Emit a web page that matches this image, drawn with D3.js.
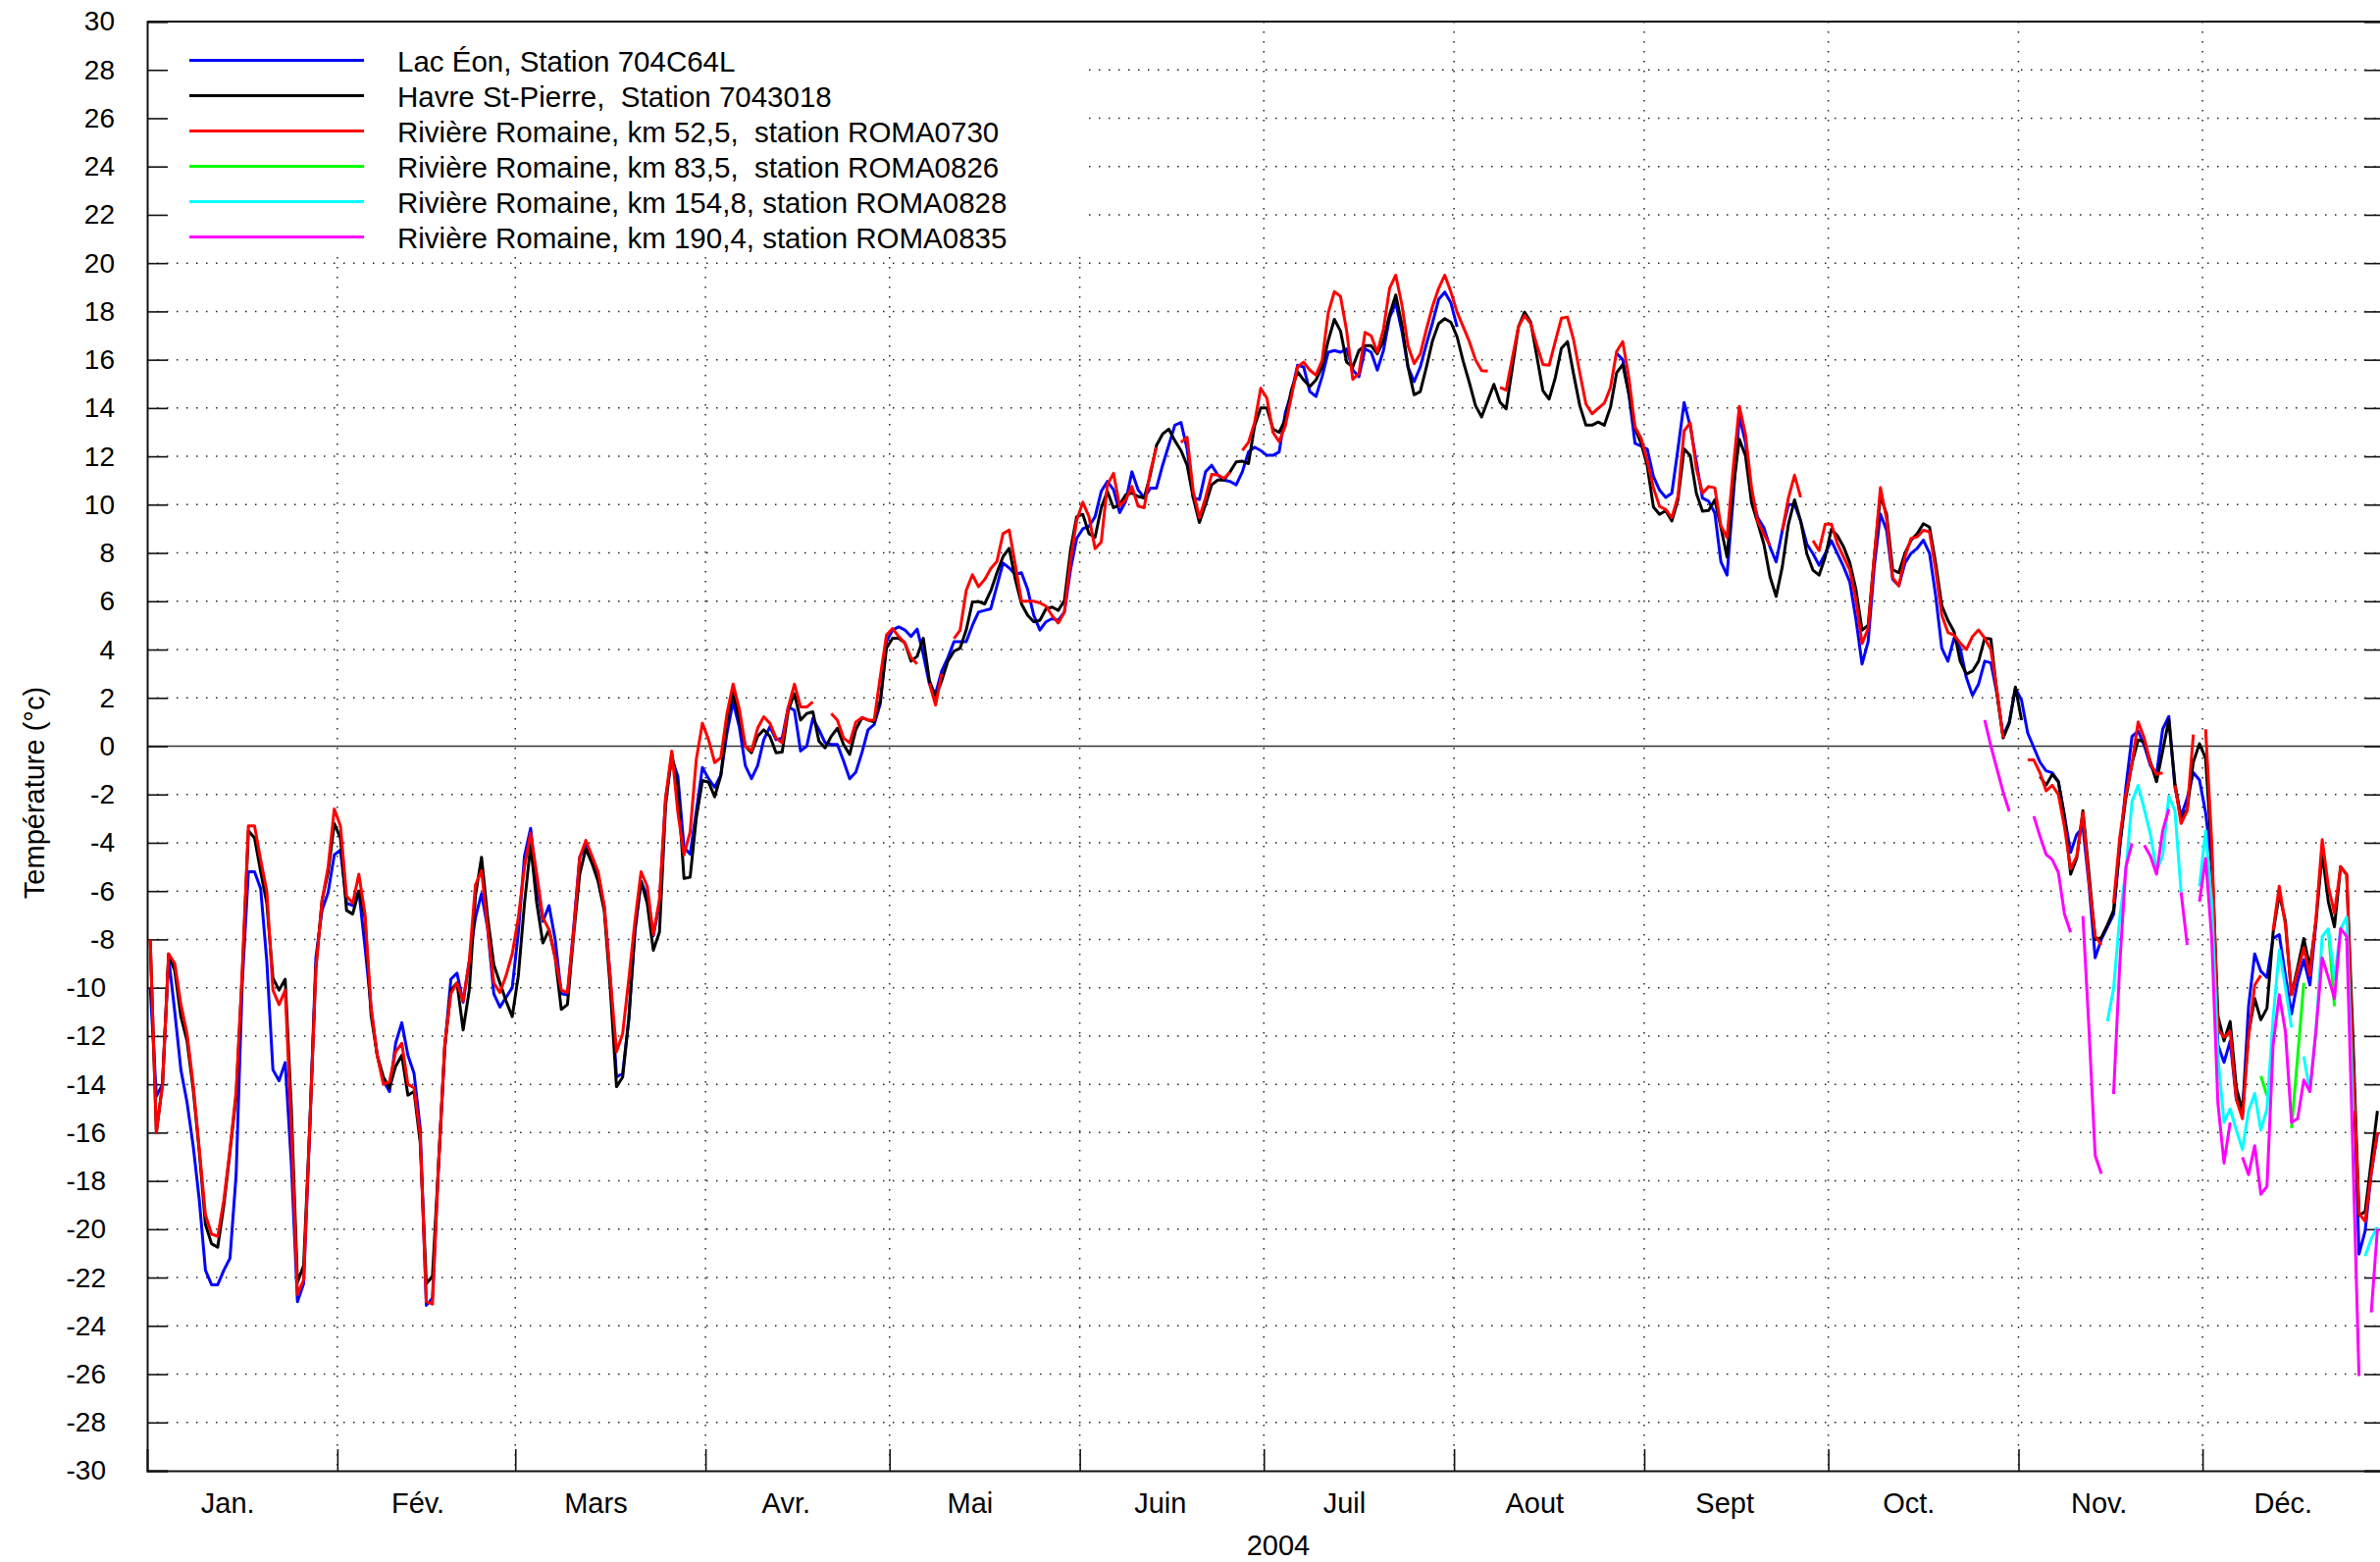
<!DOCTYPE html>
<html>
<head>
<meta charset="utf-8">
<script src="https://cdn.jsdelivr.net/npm/d3@7"></script>
<style>
  body { margin: 0; background: #fff; }
  svg text { font-family: "Liberation Sans", Arial, sans-serif; fill: #000; }
</style>
</head>
<body>
<svg id="chart"></svg>
<script>
// daily values, 2004, index 0 = Jan 1
var lacEon = [
  -10.0, -14.5, -14.0, -8.75, -11.0, -13.4, -14.75, -16.55, -18.8, -21.7,
  -22.3, -22.3, -21.7, -21.2, -17.75, -9.8, -5.2, -5.2, -5.9, -8.9,
  -13.4, -13.85, -13.1, -17.3, -23.0, -22.25, -15.8, -8.75, -6.8, -6.05,
  -4.5, -4.3, -6.5, -6.6, -6.0, -8.3, -10.85, -12.8, -13.85, -14.3,
  -12.3, -11.45, -12.8, -13.55, -15.8, -23.15, -22.85, -17.3, -12.5, -9.65,
  -9.4, -10.6, -8.9, -7.1, -6.1, -7.55, -10.25, -10.8, -10.4, -10.0,
  -7.7, -4.55, -3.4, -5.75, -7.25, -6.6, -8.0, -10.25, -10.3, -7.55,
  -4.6, -4.1, -4.7, -5.3, -6.65, -9.65, -13.7, -13.55, -11.3, -7.7,
  -5.6, -6.2, -7.85, -6.5, -2.15, -0.5, -1.25, -4.2, -4.47, -2.7,
  -0.88, -1.35, -1.7, -1.2, 0.54, 1.83, 0.81, -0.81, -1.35, -0.81,
  0.27, 0.81, 0.27, 0.34, 1.62, 1.49, -0.2, 0, 1.15, 0.68,
  0.14, 0.07, 0.07, -0.61, -1.35, -1.08, -0.27, 0.68, 0.9, 1.76,
  4.33, 4.81, 4.94, 4.81, 4.54, 4.85, 3.79, 2.57, 2.17, 3.11,
  3.66, 4.33, 4.33, 4.33, 5.0, 5.55, 5.62, 5.69, 6.64, 7.58,
  7.38, 7.11, 7.18, 6.5, 5.42, 4.81, 5.15, 5.28, 5.21, 5.55,
  7.31, 8.6, 9.0, 9.1, 9.5, 10.55, 10.96, 10.62, 9.67, 10.14,
  11.36, 10.62, 10.28, 10.68, 10.68, 11.63, 12.45, 13.29, 13.4, 12.31,
  10.28, 10.21, 11.36, 11.63, 11.23, 11.02, 10.96, 10.82, 11.36, 12.18,
  12.38, 12.24, 12.04, 12.04, 12.18, 13.8, 14.62, 15.77, 15.7, 14.68,
  14.48, 15.3, 16.31, 16.38, 16.31, 16.45, 15.57, 15.3, 16.45, 16.31,
  15.57, 16.38, 17.74, 18.35, 17.19, 15.7, 15.09, 15.7, 16.65, 17.53,
  18.5, 18.8, 18.35, 17.36, null, null, null, null, null, null,
  null, null, null, null, null, null, null, null, null, null,
  null, null, null, null, null, null, null, null, null, 16.27,
  16.0, 14.58, 12.54, 12.43, 12.3, 11.17, 10.6, 10.3, 10.47, 12.31,
  14.23, 13.25, 11.76, 10.27, 10.14, 9.66, 7.63, 7.08, 10.27, 13.66,
  12.58, 10.41, 9.46, 9.05, 8.24, 7.63, 8.92, 10.0, 10.0, 9.32,
  8.37, 7.97, 7.49, 7.97, 8.51, 7.97, 7.43, 6.8, 5.27, 3.4,
  4.33, 7.45, 9.61, 8.94, 6.91, 6.64, 7.58, 7.99, 8.19, 8.53,
  7.99, 6.23, 4.06, 3.52, 4.47, 4.06, 2.84, 2.1, 2.57, 3.52,
  3.45, 2.17, 0.41, 1.0, 2.4, 1.9, 0.55, -0.06, -0.66, -1.02,
  -1.1, -1.47, -2.9, -4.4, -3.65, -3.35, -5.75, -8.76, -8.0, -7.48,
  -6.96, -4.25, -1.7, 0.4, 0.63, 0.03, -0.8, -1.17, 0.7, 1.23,
  -1.7, -2.9, -2.15, -1.1, -1.4, -2.75, -5.0, -12.37, -13.09, -12.21,
  -14.62, -15.26, -10.77, -8.6, -9.32, -9.57, -7.96, -7.8, -9.49, -11.09,
  -9.73, -8.84, -9.89, -7.24, null, null, null, null, null, -12.5,
  -21.03, -20.07, -17.66, -16.06
];

var havreStPierre = [
  -8, -16, -14, -8.6, -9.3, -11.2, -12.2, -14.2, -16.8, -19.8,
  -20.6, -20.75, -19.0, -16.8, -14.5, -9.5, -3.5, -3.8, -5.2, -6.5,
  -9.6, -10.1, -9.65, -15.0, -22.2, -21.5, -15.8, -9.2, -6.4, -5.2,
  -3.2, -3.8, -6.8, -6.95, -6.0, -7.1, -11.15, -12.8, -13.7, -14.15,
  -13.25, -12.8, -14.45, -14.3, -16.4, -22.25, -21.95, -17.3, -12.5, -10.1,
  -9.8, -11.75, -10.1, -6.2, -4.6, -7.1, -9.05, -9.8, -10.55, -11.2,
  -9.5, -6.5, -4.1, -6.5, -8.15, -7.6, -8.75, -10.9, -10.7, -7.85,
  -5.3, -4.25, -4.85, -5.6, -6.8, -10.1, -14.1, -13.7, -11.3, -7.55,
  -5.6, -6.5, -8.45, -7.7, -2.45, -0.3, -1.7, -5.48, -5.42, -2.98,
  -1.42, -1.49, -2.1, -1.22, 0.95, 2.23, 1.08, 0, -0.27, 0.41,
  0.68, 0.41, -0.27, -0.24, 1.49, 2.17, 1.08, 1.35, 1.42, 0.2,
  -0.07, 0.41, 0.74, 0.07, -0.34, 0.68, 1.18, 1.08, 1.0, 1.9,
  4.06, 4.47, 4.47, 4.27, 3.52, 3.72, 4.47, 2.71, 2.03, 2.71,
  3.52, 3.93, 4.06, 4.81, 5.96, 5.99, 5.89, 6.43, 7.18, 7.85,
  8.19, 6.9, 5.89, 5.42, 5.15, 5.21, 5.69, 5.76, 5.62, 6.03,
  8.12, 9.5, 9.6, 8.8, 8.65, 9.87, 10.55, 9.87, 10.0, 10.41,
  10.48, 10.34, 10.28, 11.23, 12.45, 12.92, 13.13, 12.65, 12.24, 11.63,
  10.28, 9.26, 10.0, 10.82, 11.02, 11.02, 11.36, 11.77, 11.8, 11.7,
  13.26, 14.0, 14.0, 13.13, 12.99, 13.53, 14.75, 15.5, 15.16, 14.89,
  15.16, 15.7, 16.79, 17.67, 17.19, 15.9, 15.7, 16.38, 16.58, 16.58,
  16.24, 16.79, 17.87, 18.68, 17.46, 15.7, 14.55, 14.68, 15.7, 16.79,
  17.5, 17.7, 17.55, 16.95, 15.93, 15.05, 14.1, 13.63, 14.31, 14.98,
  14.24, 13.97, 15.66, 17.36, 17.97, 17.56, 16.14, 14.71, 14.37, 15.25,
  16.47, 16.75, 15.39, 14.1, 13.29, 13.29, 13.42, 13.29, 14.03, 15.46,
  15.8, 14.58, 13.15, 12.54, 11.6, 9.9, 9.6, 9.75, 9.32, 10.2,
  12.31, 12.03, 10.47, 9.73, 9.76, 10.2, 9.05, 7.83, 10.68, 12.71,
  12.03, 10.07, 9.25, 8.37, 7.02, 6.2, 7.42, 9.19, 10.2, 9.32,
  7.97, 7.29, 7.08, 7.83, 8.98, 8.71, 8.25, 7.6, 6.5, 4.8,
  5.01, 7.85, 10.36, 9.61, 7.31, 7.18, 7.99, 8.53, 8.8, 9.21,
  9.07, 7.58, 5.82, 5.21, 4.74, 3.52, 2.98, 3.11, 3.52, 4.47,
  4.44, 2.17, 0.34, 0.95, 2.45, 1.08, null, null, -1.25, -1.62,
  -1.17, -1.47, -2.9, -5.3, -4.63, -2.67, -5.3, -8.0, -7.93, -7.4,
  -6.8, -4.1, -2.15, -0.72, 0.26, 0.18, -0.65, -1.47, -0.2, 1.08,
  -1.55, -3.05, -2.6, -0.65, 0.1, -0.5, -4.5, -11.17, -12.2, -11.4,
  -14.14, -15.1, -11.9, -10.45, -11.33, -10.85, -7.72, -6.12, -7.24, -10.29,
  -9.16, -7.96, -9.16, -7.24, -4.43, -6.44, -7.48, -4.99, -5.32, -12.0,
  -19.43, -19.27, -17.18, -15.1
];

var roma0730 = [
  -8.0, -16.0, -14.0, -8.6, -9.0, -10.7, -11.9, -14.0, -16.7, -19.4,
  -20.2, -20.3, -18.8, -16.7, -14.3, -9.3, -3.3, -3.3, -4.7, -6.0,
  -10.1, -10.7, -10.1, -15.8, -22.7, -22.1, -15.8, -9.2, -6.4, -5.0,
  -2.6, -3.3, -6.2, -6.5, -5.3, -6.95, -10.85, -12.8, -14.0, -13.9,
  -12.65, -12.3, -14.0, -14.15, -16.1, -23.0, -23.1, -17.3, -12.35, -10.25,
  -9.8, -10.55, -8.9, -5.75, -5.15, -7.55, -9.8, -10.2, -9.5, -8.6,
  -7.1, -5.0, -3.6, -5.3, -7.1, -7.6, -8.75, -10.1, -10.2, -7.7,
  -4.6, -3.9, -4.55, -5.2, -6.6, -9.65, -12.65, -11.9, -9.65, -7.25,
  -5.2, -5.8, -7.8, -6.35, -2.15, -0.2, -2.75, -4.5, -3.55, -0.55,
  0.95, 0.27, -0.68, -0.47, 1.35, 2.57, 1.56, 0, -0.2, 0.74,
  1.22, 0.95, 0.34, 0.14, 1.62, 2.57, 1.62, 1.62, 1.83, null,
  null, 1.35, 1.08, 0.34, 0.14, 1.0, 1.18, 1.08, 1.08, 2.9,
  4.6, 4.87, 4.54, 4.27, 3.66, 3.41, null, 2.6, 1.7, 3.0,
  null, 4.45, 4.8, 6.45, 7.1, 6.6, 6.9, 7.35, 7.65, 8.8,
  8.95, 7.5, 6.0, 6.0, 6.0, 5.93, 5.8, 5.4, 5.1, 5.55,
  7.7, 9.35, 10.1, 9.5, 8.18, 8.45, 10.82, 11.3, 9.94, 10.2,
  10.75, 9.94, 9.87, 11.36, 12.38, null, null, null, 12.58, 12.79,
  10.55, 9.46, 10.28, 11.25, 11.23, 11.09, 11.34, null, 12.24, 12.58,
  13.4, 14.82, 14.41, 12.99, 12.61, 13.26, 14.48, 15.7, 15.9, 15.57,
  15.36, 15.97, 17.94, 18.82, 18.62, 17.19, 15.19, 15.43, 17.13, 16.99,
  16.31, 17.26, 18.96, 19.5, 18.28, 16.58, 15.84, 16.24, 17.26, 18.21,
  18.96, 19.5, 18.8, 17.97, 17.36, 16.75, 16.0, 15.55, 15.53, null,
  14.85, 14.74, 16.07, 17.36, 17.83, 17.49, 16.61, 15.8, 15.77, 16.75,
  17.72, 17.76, 16.81, 15.46, 14.17, 13.76, 13.99, 14.2, 14.85, 16.34,
  16.75, 15.25, 13.22, 12.75, 11.8, 10.7, 9.93, 9.8, 9.46, 10.34,
  13.05, 13.39, 11.49, 10.47, 10.75, 10.7, 9.12, 8.64, 11.49, 14.07,
  12.92, 10.68, 9.32, 8.78, 8.31, null, 8.92, 10.27, 11.22, 10.3,
  null, 8.51, 8.1, 9.19, 9.19, 8.37, 7.83, 7.3, 6.08, 4.25,
  4.87, 7.85, 10.7, 9.41, 6.97, 6.64, 7.85, 8.6, 8.67, 8.94,
  8.87, 7.31, 5.42, 4.71, 4.6, 4.27, 4.0, 4.54, 4.81, 4.47,
  4.0, 2.3, 0.34, null, null, null, -0.57, -0.57, -1.1, -1.85,
  -1.62, -2.0, -3.35, -5.08, -4.55, -2.75, -5.6, -7.86, -8.23, null,
  -6.5, -3.8, -2.0, -0.72, 1.0, 0.33, -0.72, -1.17, -1.1, null,
  -1.62, -3.2, -2.67, 0.48, null, 0.7, -4.0, -11.73, -12.05, -11.81,
  -14.62, -15.42, -12.05, -9.89, -9.49, null, -7.64, -5.8, -7.4, -10.29,
  -9.32, -8.36, -9.49, -7.08, -3.87, -5.8, -6.92, -4.99, -5.32, -13.0,
  -19.35, -19.67, -17.66, -15.98
];

// partial series: first index given separately
var roma0826Start = 344;
var roma0826 = [-13.66, -14.46, null, null, null, -15.82, -12.85, -9.81, null, null, null, -7.56, -10.77];

var roma0828Start = 319;
var roma0828 = [
  -11.39, -10.04, -7.1, -5.15, -2.3, -1.62, -2.6, -3.65, -5.15, -4.55,
  -2.07, -2.67, -6.05, null, null, -5.8, -3.5, -6.5, -12.85, -15.58,
  -15.02, -15.9, -16.7, -15.1, -14.38, -15.9, -15.02, -11.25, -8.44, -9.97,
  -11.65, null, -12.85, -14.3, -11.73, -7.88, -7.56, -9.65, -7.56, -7.08,
  -15.1, null, -21.11, -20.39, -19.91
];

var roma0835Start = 299;
var roma0835 = [
  1.08, 0, -0.95, -1.9, -2.7, null, null, null, -2.9, -3.73,
  -4.48, -4.7, -5.23, -6.96, -7.71, null, -7.03, -11.76, -16.95, -17.7,
  null, -14.4, -9.06, -5.0, -4.03, null, -4.1, -4.55, -5.3, -3.5,
  -2.6, null, -6.05, -8.23, null, -6.44, -4.65, -8.0, -14.78, -17.26,
  -15.58, null, -17.02, -17.74, -16.54, -18.55, -18.23, -12.37, -10.29, -11.81,
  -15.58, -15.42, -13.82, -14.3, -11.73, -8.76, -9.57, -10.45, -7.56, -7.88,
  -16.86, -26.08, null, -23.44, -19.99
];

var seriesNames = [
  "Lac Éon, Station 704C64L",
  "Havre St-Pierre,  Station 7043018",
  "Rivière Romaine, km 52,5,  station ROMA0730",
  "Rivière Romaine, km 83,5,  station ROMA0826",
  "Rivière Romaine, km 154,8, station ROMA0828",
  "Rivière Romaine, km 190,4, station ROMA0835"
];
var seriesColors = ["#0000ff", "#000000", "#ff0000", "#00ff00", "#00ffff", "#ff00ff"];

var monthNames = ["Jan.", "Fév.", "Mars", "Avr.", "Mai", "Juin", "Juil", "Aout", "Sept", "Oct.", "Nov.", "Déc."];
var monthStarts = [0, 31, 60, 91, 121, 152, 182, 213, 244, 274, 305, 335];
var yTicks = d3.range(-30, 31, 2);

var width = 2426, height = 1592;
var plotLeft = 150, plotRight = 2439, plotTop = 22, plotBottom = 1499;

var svg = d3.select("#chart").attr("width", width).attr("height", height);

var x = d3.scaleLinear().domain([0, 366]).range([plotLeft, plotRight]);
var y = d3.scaleLinear().domain([-30, 30]).range([plotBottom, plotTop]);

function toPoints(values, start) {
  return values.map(function (v, i) { return { day: start + i, value: v }; });
}
var series = [
  toPoints(lacEon, 0),
  toPoints(havreStPierre, 0),
  toPoints(roma0730, 0),
  toPoints(roma0826, roma0826Start),
  toPoints(roma0828, roma0828Start),
  toPoints(roma0835, roma0835Start)
];

/* grid */
var grid = svg.append("g").attr("class", "grid");
grid.selectAll(".hgrid")
  .data(yTicks.filter(function (d) { return d !== 0 && d > -30 && d < 30; }))
  .enter().append("line")
  .attr("x1", plotLeft).attr("x2", plotRight)
  .attr("y1", function (d) { return y(d); }).attr("y2", function (d) { return y(d); })
  .attr("stroke", "#222").attr("stroke-width", 1.5)
  .attr("stroke-dasharray", "1.5,8.5");
grid.selectAll(".vgrid")
  .data(monthStarts.slice(1))
  .enter().append("line")
  .attr("x1", function (d) { return x(d); }).attr("x2", function (d) { return x(d); })
  .attr("y1", plotTop).attr("y2", plotBottom)
  .attr("stroke", "#222").attr("stroke-width", 1.5)
  .attr("stroke-dasharray", "1.5,8.5");

// legend area hides the grid
svg.append("rect")
  .attr("x", plotLeft + 1).attr("y", plotTop + 1)
  .attr("width", 955).attr("height", 233)
  .attr("fill", "#fff");

// zero line
svg.append("line")
  .attr("x1", plotLeft).attr("x2", plotRight)
  .attr("y1", y(0)).attr("y2", y(0))
  .attr("stroke", "#333").attr("stroke-width", 1.6);

/* axes */
var yAxis = svg.append("g")
  .attr("transform", "translate(" + plotLeft + ",0)")
  .call(d3.axisLeft(y).tickValues(yTicks).tickSize(-21).tickPadding(33)
    .tickFormat(function (d) { return String(d); }));
yAxis.selectAll("text")
  .style("font-size", "28px")
  .attr("dx", function (d) { return d <= -10 ? -9 : 0; });

var yAxisRight = svg.append("g")
  .attr("transform", "translate(" + (plotRight - 8) + ",0)")
  .call(d3.axisRight(y).tickValues(yTicks).tickSize(-21).tickFormat(""));

var xAxis = svg.append("g")
  .attr("transform", "translate(0," + plotBottom + ")")
  .call(d3.axisBottom(x).tickValues(monthStarts.slice(1)).tickSize(-22).tickFormat(""));

var xLabels = svg.append("g")
  .attr("transform", "translate(0," + plotBottom + ")")
  .call(d3.axisBottom(x)
    .tickValues(monthStarts.map(function (d) { return d + 13.06; }))
    .tickSize(0).tickPadding(22)
    .tickFormat(function (d, i) { return monthNames[i]; }));
xLabels.select(".domain").remove();
xLabels.selectAll("text").style("font-size", "29px");

svg.selectAll(".domain").attr("stroke", "#111").attr("stroke-width", 2);
svg.selectAll(".tick line").attr("stroke", "#111").attr("stroke-width", 1.6);

svg.append("line")
  .attr("x1", plotLeft).attr("x2", plotRight)
  .attr("y1", plotTop).attr("y2", plotTop)
  .attr("stroke", "#111").attr("stroke-width", 2);

svg.append("text")
  .attr("x", 1303).attr("y", 1585)
  .attr("text-anchor", "middle")
  .style("font-size", "29px")
  .text("2004");

svg.append("text")
  .attr("transform", "translate(45,808) rotate(-90)")
  .attr("text-anchor", "middle")
  .style("font-size", "29px")
  .text("Température (°c)");

/* lines */
var line = d3.line()
  .defined(function (d) { return d.value !== null; })
  .x(function (d) { return x(d.day + 0.5); })
  .y(function (d) { return y(d.value); });

svg.append("g").attr("class", "lines")
  .selectAll("path")
  .data(series).enter()
  .append("path")
  .attr("d", function (d) { return line(d); })
  .attr("fill", "none")
  .attr("stroke", function (d, i) { return seriesColors[i]; })
  .attr("stroke-width", 3)
  .attr("stroke-linejoin", "round");

/* legend */
var legend = svg.append("g").attr("class", "legend");
var rows = legend.selectAll("g")
  .data(seriesNames).enter()
  .append("g")
  .attr("transform", function (d, i) { return "translate(0," + (61.5 + i * 36) + ")"; });
rows.append("line")
  .attr("x1", 193).attr("x2", 371)
  .attr("stroke", function (d, i) { return seriesColors[i]; })
  .attr("stroke-width", 3);
rows.append("text")
  .attr("x", 405).attr("y", 11)
  .style("font-size", "29.5px")
  .style("white-space", "pre")
  .text(function (d) { return d; });
</script>
</body>
</html>
